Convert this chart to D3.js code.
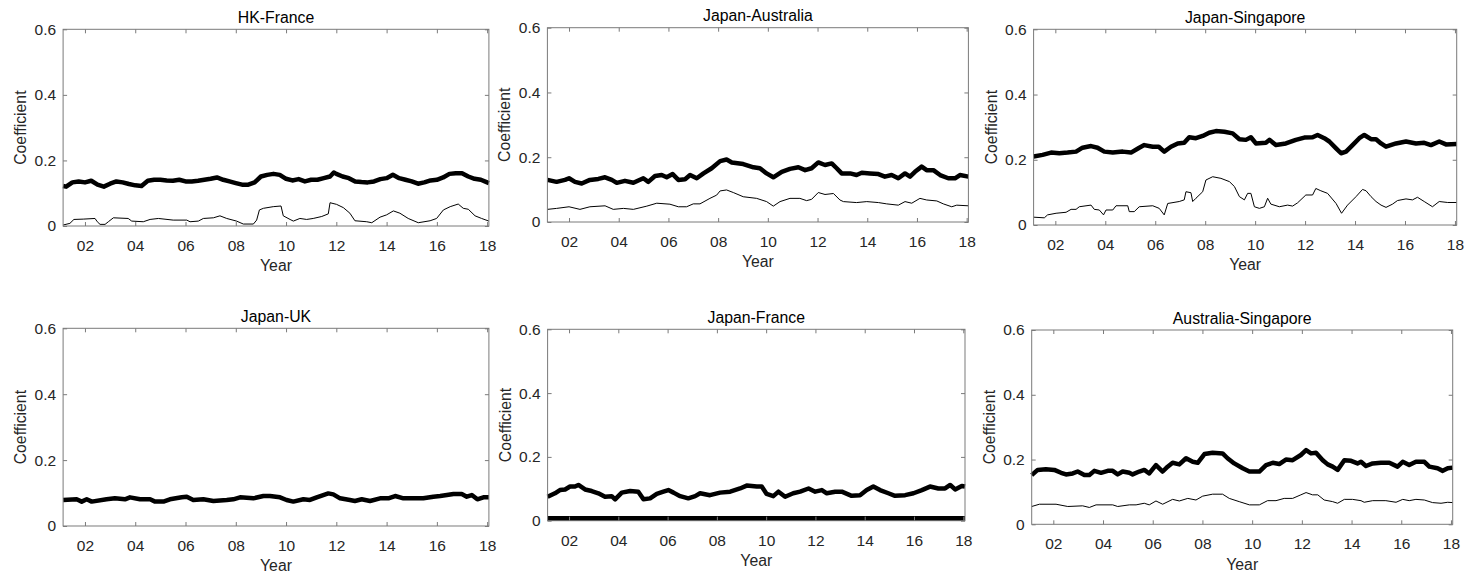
<!DOCTYPE html>
<html>
<head>
<meta charset="utf-8">
<script src="https://d3js.org/d3.v7.min.js"></script>
<style>
body { margin: 0; background: #fff; }
</style>
</head>
<body>
<div id="chart"></div>
<script>

// ticks shared by every panel
var xTicks = [2, 4, 6, 8, 10, 12, 14, 16, 18];
var xTickLabels = ["02", "04", "06", "08", "10", "12", "14", "16", "18"];
var yTicks = [0, 0.2, 0.4, 0.6];
var yTickLabels = ["0", "0.2", "0.4", "0.6"];
var yearRange = [1.13, 18.07];   // years after 2000
var coefRange = [0, 0.6];

var titles = ["HK-France", "Japan-Australia", "Japan-Singapore", "Japan-UK", "Japan-France", "Australia-Singapore"];

// series as [year after 2000, coefficient]
var hkFranceHigh = [[1.13,0.122],[1.25,0.120],[1.5,0.133],[1.75,0.136],[2.0,0.133],[2.25,0.138],[2.5,0.126],[2.75,0.120],[3.0,0.129],[3.25,0.136],[3.5,0.133],[3.75,0.128],[4.0,0.124],[4.25,0.122],[4.5,0.138],[4.75,0.141],[5.0,0.141],[5.25,0.139],[5.5,0.138],[5.75,0.141],[6.0,0.136],[6.25,0.136],[6.5,0.138],[6.75,0.141],[7.0,0.144],[7.25,0.148],[7.5,0.141],[7.75,0.136],[8.0,0.131],[8.25,0.126],[8.5,0.126],[8.75,0.133],[9.0,0.151],[9.25,0.156],[9.5,0.159],[9.75,0.156],[10.0,0.144],[10.25,0.139],[10.5,0.143],[10.75,0.136],[11.0,0.141],[11.25,0.141],[11.5,0.146],[11.75,0.151],[11.9,0.163],[12.0,0.159],[12.25,0.151],[12.5,0.146],[12.75,0.136],[13.0,0.134],[13.25,0.133],[13.5,0.136],[13.75,0.143],[14.0,0.146],[14.25,0.156],[14.5,0.146],[14.75,0.141],[15.0,0.136],[15.25,0.129],[15.5,0.133],[15.75,0.139],[16.0,0.141],[16.25,0.148],[16.5,0.159],[16.75,0.161],[17.0,0.161],[17.25,0.151],[17.5,0.144],[17.75,0.141],[18.0,0.133],[18.07,0.131]];
var hkFranceLow = [[1.13,0.003],[1.40,0.008],[1.56,0.020],[1.93,0.021],[2.40,0.023],[2.49,0.013],[2.60,0.005],[2.80,0.005],[2.93,0.013],[3.13,0.025],[3.72,0.023],[3.86,0.015],[4.32,0.013],[4.59,0.020],[4.92,0.023],[5.51,0.018],[6.05,0.018],[6.18,0.013],[6.51,0.015],[6.71,0.023],[7.11,0.025],[7.37,0.031],[7.64,0.023],[8.03,0.015],[8.30,0.006],[8.70,0.006],[8.83,0.018],[8.94,0.049],[9.10,0.054],[9.49,0.059],[9.80,0.061],[9.89,0.031],[10.16,0.020],[10.29,0.015],[10.55,0.023],[10.82,0.020],[11.08,0.023],[11.42,0.029],[11.68,0.037],[11.75,0.071],[12.01,0.066],[12.28,0.056],[12.54,0.039],[12.74,0.016],[13.21,0.013],[13.41,0.010],[13.74,0.027],[14.0,0.034],[14.27,0.046],[14.53,0.039],[14.86,0.023],[15.26,0.010],[15.73,0.016],[15.99,0.023],[16.26,0.049],[16.53,0.059],[16.85,0.067],[17.05,0.054],[17.25,0.051],[17.52,0.031],[17.78,0.023],[18.07,0.015]];

var jpAusHigh = [[1.13,0.130],[1.5,0.124],[1.84,0.130],[2.0,0.135],[2.24,0.124],[2.51,0.119],[2.84,0.130],[3.18,0.133],[3.45,0.138],[3.72,0.130],[3.92,0.121],[4.25,0.127],[4.59,0.121],[4.99,0.135],[5.19,0.124],[5.46,0.142],[5.73,0.145],[5.93,0.138],[6.17,0.148],[6.40,0.130],[6.67,0.132],[6.87,0.145],[7.14,0.135],[7.41,0.150],[7.74,0.166],[8.08,0.188],[8.34,0.193],[8.55,0.184],[9.01,0.179],[9.42,0.169],[9.68,0.166],[9.95,0.150],[10.22,0.138],[10.56,0.155],[10.89,0.164],[11.23,0.169],[11.50,0.160],[11.76,0.166],[12.03,0.184],[12.30,0.176],[12.57,0.181],[12.77,0.166],[12.97,0.150],[13.31,0.150],[13.57,0.145],[13.78,0.152],[14.11,0.150],[14.45,0.148],[14.71,0.140],[14.98,0.145],[15.25,0.135],[15.52,0.150],[15.72,0.140],[15.92,0.155],[16.19,0.171],[16.39,0.160],[16.66,0.160],[16.93,0.145],[17.26,0.135],[17.53,0.135],[17.73,0.145],[18.07,0.140]];
var jpAusLow = [[1.13,0.039],[1.50,0.042],[2.0,0.047],[2.44,0.039],[2.84,0.047],[3.45,0.050],[3.78,0.039],[4.19,0.042],[4.59,0.039],[5.13,0.049],[5.53,0.058],[6.06,0.055],[6.40,0.047],[6.73,0.047],[7.0,0.056],[7.27,0.056],[7.67,0.073],[7.94,0.083],[8.08,0.096],[8.34,0.099],[8.61,0.091],[9.01,0.078],[9.55,0.073],[9.95,0.063],[10.22,0.049],[10.49,0.063],[10.89,0.073],[11.29,0.073],[11.56,0.066],[11.76,0.070],[12.03,0.091],[12.30,0.085],[12.64,0.088],[12.90,0.068],[13.04,0.063],[13.57,0.060],[13.98,0.063],[14.45,0.060],[14.78,0.056],[15.25,0.052],[15.52,0.063],[15.79,0.058],[16.12,0.073],[16.39,0.068],[16.80,0.065],[17.06,0.056],[17.40,0.047],[17.60,0.052],[18.07,0.050]];

var jpSingHigh = [[1.13,0.210],[1.49,0.215],[1.83,0.222],[2.16,0.220],[2.49,0.222],[2.83,0.225],[3.09,0.237],[3.43,0.242],[3.69,0.237],[3.96,0.225],[4.30,0.222],[4.70,0.225],[5.03,0.222],[5.36,0.237],[5.56,0.245],[5.90,0.240],[6.14,0.240],[6.36,0.225],[6.63,0.240],[6.90,0.250],[7.16,0.252],[7.36,0.269],[7.63,0.266],[7.90,0.273],[8.16,0.283],[8.43,0.288],[8.77,0.286],[9.10,0.281],[9.37,0.263],[9.63,0.261],[9.83,0.269],[10.03,0.250],[10.43,0.252],[10.57,0.261],[10.83,0.245],[11.23,0.250],[11.63,0.261],[11.97,0.268],[12.30,0.269],[12.50,0.276],[12.77,0.266],[12.97,0.256],[13.24,0.235],[13.44,0.220],[13.64,0.225],[13.90,0.245],[14.17,0.266],[14.37,0.276],[14.64,0.263],[14.84,0.263],[15.04,0.250],[15.24,0.240],[15.64,0.250],[16.04,0.256],[16.44,0.250],[16.77,0.252],[17.04,0.245],[17.37,0.256],[17.64,0.247],[18.07,0.248]];
var jpSingLow = [[1.13,0.024],[1.56,0.022],[1.69,0.031],[2.03,0.036],[2.43,0.039],[2.63,0.048],[2.83,0.048],[2.96,0.056],[3.43,0.061],[3.56,0.048],[3.76,0.046],[3.93,0.031],[4.03,0.046],[4.30,0.046],[4.43,0.059],[4.90,0.059],[4.96,0.041],[5.16,0.041],[5.36,0.056],[5.90,0.059],[6.16,0.051],[6.36,0.031],[6.50,0.066],[6.96,0.072],[7.16,0.077],[7.23,0.102],[7.43,0.099],[7.50,0.072],[7.63,0.082],[7.90,0.102],[8.03,0.138],[8.30,0.148],[8.63,0.143],[8.97,0.133],[9.17,0.118],[9.37,0.087],[9.57,0.077],[9.70,0.097],[9.83,0.097],[9.97,0.056],[10.17,0.051],[10.37,0.056],[10.50,0.082],[10.63,0.064],[10.97,0.056],[11.30,0.061],[11.50,0.058],[11.70,0.068],[12.03,0.092],[12.30,0.092],[12.43,0.112],[12.63,0.105],[12.90,0.097],[13.24,0.066],[13.46,0.036],[13.70,0.061],[14.04,0.087],[14.30,0.109],[14.44,0.105],[14.64,0.087],[14.84,0.072],[15.04,0.061],[15.24,0.054],[15.50,0.064],[15.70,0.075],[16.04,0.080],[16.30,0.077],[16.50,0.085],[16.77,0.072],[17.10,0.056],[17.37,0.072],[17.71,0.069],[18.07,0.069]];

var jpUkHigh = [[1.13,0.079],[1.67,0.081],[1.87,0.074],[2.07,0.081],[2.27,0.074],[2.86,0.081],[3.19,0.084],[3.59,0.081],[3.79,0.087],[4.19,0.081],[4.59,0.081],[4.79,0.074],[5.12,0.074],[5.38,0.081],[5.85,0.087],[6.05,0.089],[6.31,0.079],[6.71,0.081],[7.11,0.076],[7.64,0.079],[7.90,0.081],[8.17,0.087],[8.70,0.084],[9.10,0.091],[9.36,0.091],[9.76,0.087],[10.02,0.079],[10.29,0.074],[10.69,0.081],[10.95,0.079],[11.22,0.087],[11.48,0.094],[11.68,0.099],[11.88,0.096],[12.15,0.084],[12.54,0.079],[12.74,0.076],[13.01,0.081],[13.34,0.076],[13.74,0.084],[14.07,0.084],[14.34,0.091],[14.67,0.084],[15.06,0.084],[15.46,0.084],[15.86,0.089],[16.13,0.091],[16.40,0.094],[16.66,0.097],[16.99,0.097],[17.19,0.089],[17.39,0.094],[17.61,0.081],[17.85,0.087],[18.07,0.087]];

var jpFranceHigh = [[1.13,0.075],[1.43,0.086],[1.63,0.096],[1.84,0.098],[2.04,0.107],[2.24,0.107],[2.38,0.112],[2.65,0.098],[2.92,0.093],[3.19,0.086],[3.46,0.075],[3.73,0.077],[3.87,0.067],[4.14,0.088],[4.48,0.093],[4.81,0.091],[5.02,0.067],[5.29,0.070],[5.56,0.084],[5.83,0.091],[6.03,0.096],[6.24,0.088],[6.51,0.077],[6.84,0.070],[7.12,0.077],[7.32,0.086],[7.72,0.080],[8.13,0.088],[8.54,0.091],[8.94,0.101],[9.21,0.110],[9.62,0.107],[9.82,0.107],[10.02,0.084],[10.29,0.077],[10.50,0.091],[10.77,0.075],[11.10,0.086],[11.38,0.091],[11.72,0.101],[11.99,0.091],[12.26,0.096],[12.46,0.086],[12.80,0.091],[13.07,0.091],[13.47,0.078],[13.81,0.080],[14.08,0.096],[14.35,0.107],[14.62,0.096],[14.96,0.086],[15.23,0.078],[15.64,0.080],[15.98,0.086],[16.32,0.096],[16.65,0.107],[16.99,0.101],[17.26,0.101],[17.47,0.112],[17.67,0.098],[17.94,0.109],[18.07,0.107]];
var jpFranceLow = [[1.13,0.007],[18.07,0.007]];

var ausSingHigh = [[1.13,0.152],[1.37,0.168],[1.70,0.170],[2.04,0.168],[2.31,0.159],[2.51,0.154],[2.78,0.157],[2.98,0.163],[3.25,0.152],[3.45,0.152],[3.65,0.165],[3.92,0.159],[4.19,0.165],[4.39,0.165],[4.59,0.154],[4.79,0.163],[5.06,0.159],[5.19,0.154],[5.46,0.163],[5.66,0.168],[5.86,0.157],[6.13,0.183],[6.40,0.163],[6.60,0.178],[6.80,0.190],[7.07,0.185],[7.34,0.204],[7.61,0.193],[7.81,0.190],[8.08,0.217],[8.41,0.221],[8.81,0.219],[9.01,0.204],[9.28,0.188],[9.62,0.173],[9.89,0.163],[10.09,0.163],[10.29,0.163],[10.56,0.183],[10.83,0.190],[11.09,0.186],[11.36,0.200],[11.63,0.198],[11.96,0.214],[12.17,0.229],[12.37,0.219],[12.57,0.221],[12.84,0.198],[13.04,0.185],[13.24,0.178],[13.44,0.168],[13.71,0.198],[13.98,0.196],[14.24,0.188],[14.38,0.193],[14.58,0.180],[14.85,0.188],[15.18,0.190],[15.52,0.190],[15.85,0.178],[16.06,0.193],[16.32,0.183],[16.59,0.193],[16.93,0.193],[17.13,0.178],[17.46,0.173],[17.67,0.165],[17.87,0.173],[18.07,0.175]];
var ausSingLow = [[1.13,0.055],[1.44,0.062],[2.11,0.062],[2.58,0.055],[3.18,0.057],[3.45,0.052],[3.72,0.060],[4.39,0.060],[4.59,0.055],[5.06,0.060],[5.33,0.060],[5.66,0.065],[5.86,0.060],[6.13,0.072],[6.40,0.062],[6.80,0.077],[7.07,0.072],[7.41,0.080],[7.74,0.075],[8.01,0.087],[8.41,0.093],[8.81,0.093],[9.08,0.080],[9.48,0.070],[9.89,0.060],[10.29,0.060],[10.62,0.073],[10.96,0.073],[11.29,0.080],[11.63,0.080],[11.96,0.091],[12.17,0.098],[12.43,0.091],[12.64,0.091],[12.90,0.075],[13.24,0.070],[13.44,0.065],[13.71,0.077],[14.04,0.077],[14.38,0.073],[14.51,0.068],[14.85,0.073],[15.38,0.073],[15.79,0.068],[16.06,0.077],[16.32,0.073],[16.59,0.077],[16.93,0.075],[17.26,0.067],[17.60,0.065],[17.87,0.068],[18.07,0.067]];



/*
 * PanelChart - one small axes box with a thick and a thin coefficient line
 */

PanelChart = function(_svg, _box, _title, _high, _low, _lowWidth){
	this.svg = _svg;
	this.box = _box;
	this.title = _title;
	this.high = _high;
	this.low = _low;
	this.lowWidth = _lowWidth;

	this.initVis();
}

PanelChart.prototype.initVis = function(){
	var vis = this;

	vis.width = vis.box.right - vis.box.left;
	vis.height = vis.box.bottom - vis.box.top;

	vis.g = vis.svg.append("g")
		.attr("transform", "translate(" + vis.box.left + "," + vis.box.top + ")");

	vis.x = d3.scaleLinear()
		.domain(yearRange)
		.range([0, vis.width]);

	vis.y = d3.scaleLinear()
		.domain(coefRange)
		.range([vis.height, 0]);

	// matlab style: ticks point inwards on all four sides
	vis.xAxis = d3.axisBottom(vis.x)
		.tickValues(xTicks)
		.tickFormat(function(d, i){ return xTickLabels[i]; })
		.tickSizeInner(-4)
		.tickSizeOuter(0)
		.tickPadding(14);

	vis.xAxisTop = d3.axisTop(vis.x)
		.tickValues(xTicks)
		.tickFormat("")
		.tickSizeInner(-4)
		.tickSizeOuter(0);

	vis.yAxis = d3.axisLeft(vis.y)
		.tickValues(yTicks)
		.tickFormat(function(d, i){ return yTickLabels[i]; })
		.tickSizeInner(-4)
		.tickSizeOuter(0)
		.tickPadding(7);

	vis.yAxisRight = d3.axisRight(vis.y)
		.tickValues(yTicks)
		.tickFormat("")
		.tickSizeInner(-4)
		.tickSizeOuter(0);

	vis.updateVis();
}

PanelChart.prototype.updateVis = function(){
	var vis = this;

	var line = d3.line()
		.x(function(d){ return vis.x(d[0]); })
		.y(function(d){ return vis.y(d[1]); });

	if (vis.low) {
		vis.g.append("path")
			.datum(vis.low)
			.attr("fill", "none")
			.attr("stroke", "#000")
			.attr("stroke-width", vis.lowWidth)
			.attr("stroke-linejoin", "round")
			.attr("d", line);
	}

	vis.g.append("path")
		.datum(vis.high)
		.attr("fill", "none")
		.attr("stroke", "#000")
		.attr("stroke-width", 4.5)
		.attr("stroke-linejoin", "round")
		.attr("d", line);

	var axes = [
		[vis.xAxis, "translate(0," + vis.height + ")"],
		[vis.xAxisTop, "translate(0,0)"],
		[vis.yAxis, "translate(0,0)"],
		[vis.yAxisRight, "translate(" + vis.width + ",0)"]
	];

	axes.forEach(function(a){
		var ax = vis.g.append("g")
			.attr("transform", a[1])
			.call(a[0]);
		ax.select(".domain").remove();
		ax.attr("font-size", 15.5)
			.attr("font-family", "'Liberation Sans', Arial, sans-serif");
		ax.selectAll("line").attr("stroke", "#7a7a7a");
		ax.selectAll("text").attr("fill", "#262626");
	});

	// box round the plot area
	vis.g.append("rect")
		.attr("width", vis.width)
		.attr("height", vis.height)
		.attr("fill", "none")
		.attr("stroke", "#7a7a7a")
		.attr("stroke-width", 1);

	vis.g.append("text")
		.attr("x", vis.width / 2)
		.attr("y", -6.5)
		.attr("text-anchor", "middle")
		.style("font-size", "15.8px")
		.style("font-family", "'Liberation Sans', Arial, sans-serif")
		.attr("fill", "#000")
		.text(vis.title);

	vis.g.append("text")
		.attr("x", vis.width / 2)
		.attr("y", vis.height + 45.5)
		.attr("text-anchor", "middle")
		.style("font-size", "15.8px")
		.style("font-family", "'Liberation Sans', Arial, sans-serif")
		.attr("fill", "#262626")
		.text("Year");

	vis.g.append("text")
		.attr("transform", "translate(-37," + (vis.height / 2) + ") rotate(-90)")
		.attr("text-anchor", "middle")
		.style("font-size", "15.8px")
		.style("font-family", "'Liberation Sans', Arial, sans-serif")
		.attr("fill", "#262626")
		.text("Coefficient");
}



var svg = d3.select("#chart").append("svg")
	.attr("width", 1466)
	.attr("height", 575);

// plot-area boxes measured on the reference
var boxes = [
	{left: 63.1, right: 488.9, top: 29.3, bottom: 226},
	{left: 547.4, right: 968.4, top: 27.7, bottom: 222},
	{left: 1033.6, right: 1456.7, top: 29.3, bottom: 225},
	{left: 63.1, right: 488.9, top: 328.3, bottom: 526},
	{left: 547.6, right: 965, top: 329.3, bottom: 520.7},
	{left: 1031.7, right: 1452.7, top: 330, bottom: 524.3}
];

var highSeries = [hkFranceHigh, jpAusHigh, jpSingHigh, jpUkHigh, jpFranceHigh, ausSingHigh];
var lowSeries = [hkFranceLow, jpAusLow, jpSingLow, null, jpFranceLow, ausSingLow];
var lowWidths = [1, 1, 1, 1, 5, 1];

var panels = boxes.map(function(b, i){
	return new PanelChart(svg, b, titles[i], highSeries[i], lowSeries[i], lowWidths[i]);
});

</script>
</body>
</html>
